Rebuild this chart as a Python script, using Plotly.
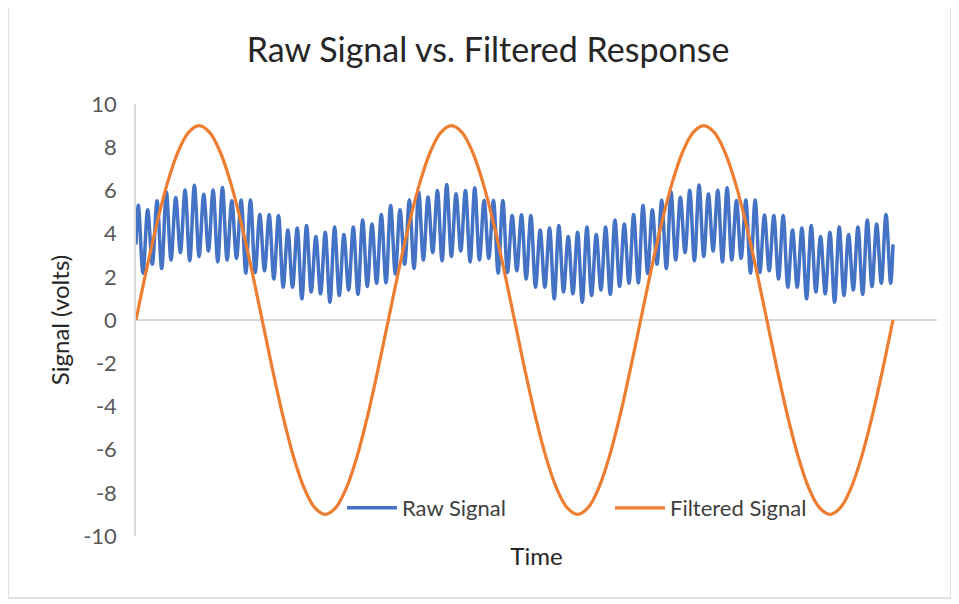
import plotly.graph_objects as go

# ---------------- data ----------------
# Raw signal: successive local maxima and minima of the fast oscillation
# (81 cycles across the time span), plus start / end values.
raw_start = 3.5
raw_end = 3.5
raw_peaks = [
    5.31, 5.10, 5.52, 5.93, 5.67, 6.02, 6.24, 5.82, 6.02, 6.13, 5.52, 5.56, 5.56, 4.88,
    4.87, 4.84, 4.17, 4.26, 4.37, 3.87, 4.06, 4.30, 3.96, 4.30, 4.63, 4.45, 4.88,
    5.30, 5.10, 5.56, 5.92, 5.69, 6.00, 6.27, 5.84, 6.00, 6.12, 5.53, 5.53, 5.53, 4.84,
    4.87, 4.84, 4.17, 4.26, 4.37, 3.87, 4.06, 4.30, 3.96, 4.30, 4.63, 4.45, 4.88,
    5.30, 5.10, 5.54, 5.93, 5.68, 6.01, 6.25, 5.83, 6.01, 6.12, 5.53, 5.55, 5.55, 4.86,
    4.84, 4.84, 4.17, 4.26, 4.37, 3.87, 4.06, 4.30, 3.96, 4.30, 4.63, 4.45, 4.88,
]
raw_troughs = [
    2.17, 2.58, 2.38, 2.78, 3.12, 2.74, 2.94, 3.20, 2.69, 2.78, 2.85, 2.17, 2.20, 2.28,
    1.90, 1.52, 1.52, 0.98, 1.30, 1.21, 0.82, 1.13, 1.39, 1.18, 1.55, 1.70, 1.72,
    2.13, 2.58, 2.38, 2.78, 3.12, 2.74, 2.94, 3.20, 2.69, 2.78, 2.85, 2.17, 2.20, 2.28,
    1.90, 1.52, 1.52, 0.98, 1.30, 1.21, 0.82, 1.13, 1.39, 1.18, 1.55, 1.70, 1.72,
    2.15, 2.58, 2.38, 2.78, 3.12, 2.74, 2.94, 3.20, 2.69, 2.78, 2.85, 2.17, 2.20, 2.28,
    1.90, 1.52, 1.52, 0.98, 1.30, 1.21, 0.82, 1.13, 1.39, 1.18, 1.55, 1.70, 1.70,
]

# Filtered signal: samples every 1/24 of its period (3 periods)
filtered_values = [
    0, 2.33, 4.5, 6.36, 7.79, 8.69, 9, 8.69, 7.79, 6.36, 4.5, 2.33,
    0, -2.33, -4.5, -6.36, -7.79, -8.69, -9, -8.69, -7.79, -6.36, -4.5, -2.33,
    0, 2.33, 4.5, 6.36, 7.79, 8.69, 9, 8.69, 7.79, 6.36, 4.5, 2.33,
    0, -2.33, -4.5, -6.36, -7.79, -8.69, -9, -8.69, -7.79, -6.36, -4.5, -2.33,
    0, 2.33, 4.5, 6.36, 7.79, 8.69, 9, 8.69, 7.79, 6.36, 4.5, 2.33,
    0, -2.33, -4.5, -6.36, -7.79, -8.69, -9, -8.69, -7.79, -6.36, -4.5, -2.33,
    0,
]

y_tick_values = [-10, -8, -6, -4, -2, 0, 2, 4, 6, 8, 10]
y_tick_labels = ["-10", "-8", "-6", "-4", "-2", "0", "2", "4", "6", "8", "10"]

series_names = ["Raw Signal", "Filtered Signal"]
title_text = "Raw Signal vs. Filtered Response"
x_title = "Time"
y_title = "Signal (volts)"

# ---------------- build traces ----------------
n_cycles = len(raw_peaks)
raw_t = [0.0]
raw_y = [raw_start]
for k in range(n_cycles):
    raw_t += [k + 0.25, k + 0.75]
    raw_y += [raw_peaks[k], raw_troughs[k]]
raw_t.append(float(n_cycles))
raw_y.append(raw_end)

step = n_cycles / (len(filtered_values) - 1)
filt_t = [i * step for i in range(len(filtered_values))]

BLUE = "#4472C4"
ORANGE = "#ED7D31"
FONT = "Lato"

fig = go.Figure()
fig.add_trace(go.Scatter(
    x=raw_t, y=raw_y, mode="lines", name=series_names[0],
    line=dict(color=BLUE, width=3.5, shape="spline", smoothing=1.0),
))
fig.add_trace(go.Scatter(
    x=filt_t, y=filtered_values, mode="lines", name=series_names[1],
    line=dict(color=ORANGE, width=3.2, shape="spline", smoothing=1.0),
))

# page body has an 8px margin: work in figure coords = screen coords - 8
OFF = 8
W, H = 959 - OFF, 604 - OFF
L, T = 136 - OFF, 104 - OFF
R = W - (937 - OFF)
B = H - (536 - OFF)
pw, ph = W - L - R, H - T - B

def px_x(p):
    return (p - OFF - L) / pw

def px_y(p):
    return (H - B - (p - OFF)) / ph

fig.update_layout(
    width=W, height=H,
    margin=dict(l=L, r=R, t=T, b=B),
    paper_bgcolor="white", plot_bgcolor="white",
    font=dict(family=FONT, color="#595959"),
    title=dict(text=title_text, x=(488 - OFF) / W, xanchor="center",
               y=1 - (50 - OFF) / H, yanchor="middle",
               font=dict(size=34, color="#262626", family=FONT)),
    showlegend=True,
    legend=dict(orientation="h", x=px_x(342), xanchor="left",
                y=px_y(508), yanchor="middle",
                font=dict(size=22, color="#404040", family=FONT),
                bgcolor="rgba(0,0,0,0)", entrywidth=203, entrywidthmode="pixels",
                itemwidth=50),
    xaxis=dict(range=[0, n_cycles * pw / 757], showgrid=False, zeroline=False,
               showticklabels=False, ticks="", showline=False,
               title=dict(text=x_title, standoff=12,
                          font=dict(size=24, color="#262626", family=FONT))),
    yaxis=dict(range=[-10, 10], tickvals=y_tick_values, ticktext=y_tick_labels,
               showgrid=False, zeroline=True, zerolinecolor="#D9D9D9", zerolinewidth=1.5,
               showline=True, linecolor="#D9D9D9", linewidth=1.5,
               ticks="", ticklabelstandoff=13,
               tickfont=dict(size=22, color="#595959", family=FONT),
               title=dict(text=y_title, standoff=7,
                          font=dict(size=24, color="#262626", family=FONT))),
    shapes=[dict(type="rect", xref="paper", yref="paper",
                 x0=px_x(8), x1=px_x(951), y0=px_y(598), y1=px_y(-6),
                 line=dict(color="#D9D9D9", width=1.5), fillcolor="rgba(0,0,0,0)",
                 layer="below")],
)

fig.write_html("out.html")
